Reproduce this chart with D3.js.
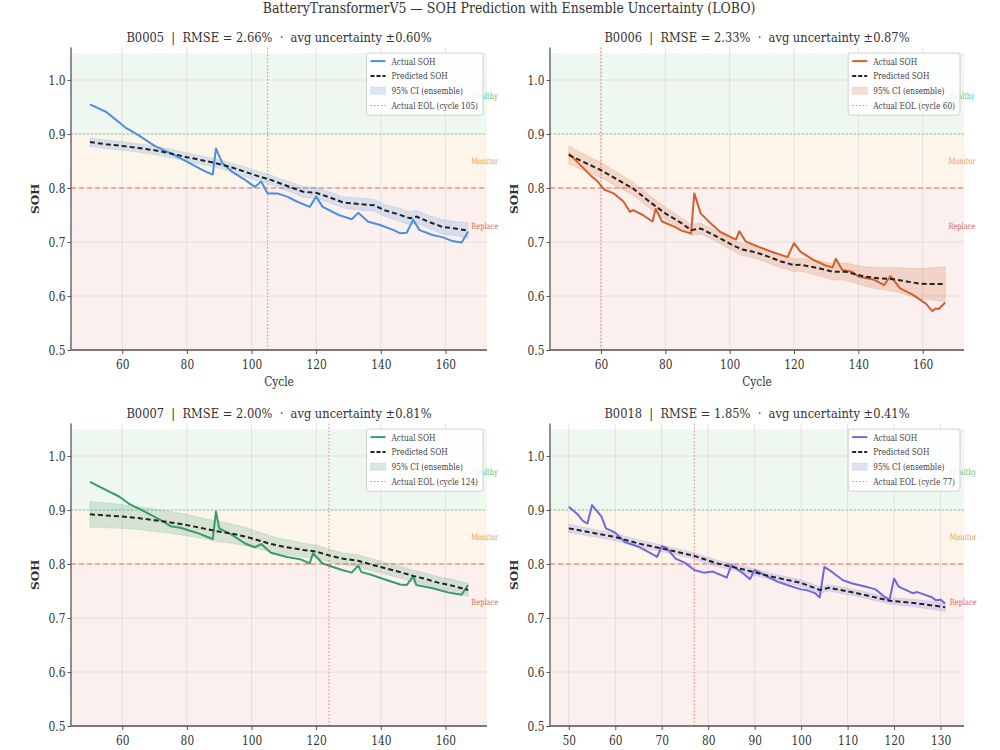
<!DOCTYPE html>
<html>
<head>
<meta charset="utf-8">
<script src="https://cdn.jsdelivr.net/npm/d3@7"></script>
<style>
  body { margin: 0; background: #fff; }
  text { font-family: "DejaVu Serif", serif; fill: #333; white-space: pre; }
</style>
</head>
<body>
<svg id="chart" width="1000" height="750"></svg>
<script>
// DATA
const batteryIds = ["B0005", "B0006", "B0007", "B0018"];
const rmseVals = [2.66, 2.33, 2.00, 1.85];
const avgUncVals = [0.60, 0.87, 0.81, 0.41];
const eolCycles = [105, 60, 124, 77];

const b0005Cycles = [50,55,61,65,70,75,79,84,86,88,89,91,94,98,101,103,105,108,111,114,118,120,122,127,131,133,136,140,144,146,148,150,152,156,159,162,165,167];
const b0005Actual = [0.955,0.941,0.912,0.898,0.878,0.864,0.852,0.836,0.830,0.825,0.873,0.846,0.830,0.815,0.802,0.812,0.790,0.790,0.784,0.775,0.765,0.784,0.765,0.750,0.742,0.754,0.738,0.731,0.722,0.716,0.717,0.741,0.722,0.713,0.709,0.702,0.699,0.719];
const b0005PredCycles = [50,55,60,65,70,75,80,85,89,94,98,102,106,110,116,120,124,128,130,134,138,141,145,149,151,155,159,163,167];
const b0005Pred = [0.885,0.881,0.878,0.874,0.870,0.864,0.857,0.851,0.846,0.838,0.830,0.822,0.815,0.806,0.793,0.791,0.783,0.774,0.772,0.770,0.768,0.759,0.752,0.744,0.747,0.737,0.728,0.725,0.721];
const b0005Ci = [0.008,0.008,0.008,0.008,0.008,0.008,0.008,0.008,0.008,0.008,0.009,0.009,0.009,0.009,0.010,0.010,0.010,0.010,0.011,0.011,0.011,0.011,0.012,0.012,0.012,0.012,0.013,0.013,0.014];

const b0006Cycles = [50,52,54,57,59,61,64,67,69,70,73,76,77,79,83,85,88,89,91,94,97,101,102,103,105,109,113,118,120,122,126,130,132,133,135,138,140,145,148,150,153,157,161,163,164,165,167];
const b0006Actual = [0.864,0.852,0.840,0.822,0.812,0.797,0.790,0.775,0.756,0.759,0.750,0.738,0.761,0.738,0.728,0.721,0.716,0.790,0.753,0.735,0.719,0.707,0.705,0.720,0.701,0.691,0.682,0.672,0.698,0.682,0.667,0.656,0.653,0.669,0.648,0.645,0.636,0.630,0.620,0.637,0.614,0.602,0.586,0.572,0.577,0.576,0.588];
const b0006PredCycles = [50,55,60,65,70,75,80,85,88,91,96,101,104,108,112,116,120,122,128,132,136,142,146,151,155,159,163,167];
const b0006Pred = [0.861,0.847,0.833,0.816,0.799,0.775,0.753,0.735,0.722,0.725,0.710,0.694,0.686,0.681,0.673,0.664,0.657,0.658,0.651,0.645,0.645,0.636,0.633,0.631,0.627,0.623,0.622,0.622];
const b0006Ci = [0.017,0.015,0.014,0.013,0.012,0.012,0.011,0.010,0.010,0.010,0.010,0.010,0.011,0.011,0.012,0.012,0.012,0.012,0.014,0.015,0.016,0.018,0.020,0.022,0.025,0.028,0.030,0.032];

const b0007Cycles = [50,54,59,62,67,72,75,78,83,86,88,89,90,94,98,101,103,106,111,115,118,119,122,125,128,131,133,134,137,142,146,148,150,151,156,161,165,167];
const b0007Actual = [0.952,0.940,0.925,0.912,0.897,0.881,0.870,0.867,0.858,0.851,0.846,0.897,0.866,0.854,0.838,0.831,0.837,0.821,0.813,0.809,0.801,0.820,0.801,0.795,0.789,0.784,0.797,0.785,0.780,0.770,0.762,0.761,0.777,0.761,0.755,0.747,0.743,0.761];
const b0007PredCycles = [50,55,60,65,70,75,80,85,89,94,98,102,106,110,116,120,124,128,133,137,142,146,150,154,158,162,167];
const b0007Pred = [0.892,0.890,0.888,0.885,0.881,0.877,0.872,0.866,0.861,0.856,0.851,0.844,0.837,0.832,0.826,0.823,0.816,0.810,0.806,0.799,0.791,0.785,0.778,0.772,0.765,0.760,0.752];
const b0007Ci = [0.024,0.023,0.022,0.021,0.021,0.020,0.020,0.019,0.019,0.018,0.017,0.016,0.015,0.014,0.013,0.012,0.012,0.011,0.011,0.011,0.011,0.011,0.011,0.011,0.011,0.012,0.012];

const b0018Cycles = [50,52,53,54,55,57,58,60,62,65,67,69,70,71,73,75,77,79,81,84,85,87,89,90,92,95,97,100,101,103,104,105,107,109,111,114,116,118,119,120,121,124,125,128,129,130,131];
const b0018Actual = [0.906,0.891,0.880,0.875,0.909,0.888,0.866,0.858,0.841,0.832,0.823,0.813,0.833,0.830,0.810,0.802,0.789,0.784,0.786,0.775,0.798,0.786,0.772,0.789,0.780,0.767,0.761,0.753,0.752,0.746,0.738,0.795,0.783,0.770,0.764,0.758,0.753,0.739,0.733,0.773,0.758,0.746,0.748,0.739,0.733,0.734,0.727];
const b0018PredCycles = [50,55,60,65,71,77,82,88,94,100,104,106,112,119,125,131];
const b0018Pred = [0.866,0.858,0.850,0.838,0.827,0.815,0.801,0.789,0.776,0.765,0.752,0.756,0.746,0.732,0.727,0.720];
const b0018Ci = [0.008,0.007,0.007,0.007,0.006,0.006,0.006,0.006,0.006,0.006,0.006,0.006,0.006,0.006,0.007,0.008];

const xTicksLong = [60, 80, 100, 120, 140, 160];
const xTicksShort = [50, 60, 70, 80, 90, 100, 110, 120, 130];
const yTicks = [0.5, 0.6, 0.7, 0.8, 0.9, 1.0];

const zoneNames = ["Healthy", "Monitor", "Replace"];
const zoneLabelY = [0.97, 0.85, 0.73];
const legendLabels = ["Actual SOH", "Predicted SOH", "95% CI (ensemble)"];

// SETUP
const SX = 0.85;          // reference glyphs are squeezed horizontally
const yDomain = [0.5, 1.06];
const plotH = 302.4;

const panels = [
  { id: batteryIds[0], color: "#4a8fe0", cycles: b0005Cycles, actual: b0005Actual, predCycles: b0005PredCycles, pred: b0005Pred, ci: b0005Ci, ticks: xTicksLong, eol: eolCycles[0], rmse: rmseVals[0], unc: avgUncVals[0], left: 71, right: 487, bottom: 350, xLabel: true },
  { id: batteryIds[1], color: "#d2602e", cycles: b0006Cycles, actual: b0006Actual, predCycles: b0006PredCycles, pred: b0006Pred, ci: b0006Ci, ticks: xTicksLong, eol: eolCycles[1], rmse: rmseVals[1], unc: avgUncVals[1], left: 550, right: 964, bottom: 350, xLabel: true },
  { id: batteryIds[2], color: "#3a9a6e", cycles: b0007Cycles, actual: b0007Actual, predCycles: b0007PredCycles, pred: b0007Pred, ci: b0007Ci, ticks: xTicksLong, eol: eolCycles[2], rmse: rmseVals[2], unc: avgUncVals[2], left: 71, right: 487, bottom: 726, xLabel: false },
  { id: batteryIds[3], color: "#6f69dc", cycles: b0018Cycles, actual: b0018Actual, predCycles: b0018PredCycles, pred: b0018Pred, ci: b0018Ci, ticks: xTicksShort, eol: eolCycles[3], rmse: rmseVals[3], unc: avgUncVals[3], left: 550, right: 964, bottom: 726, xLabel: false }
];

const zones = [
  { lo: 0.9, hi: 1.05, fill: "#eef8f0", text: "#5cc07a" },
  { lo: 0.8, hi: 0.9, fill: "#fdf5ea", text: "#e8a050" },
  { lo: 0.5, hi: 0.8, fill: "#fbf0ee", text: "#d9675c" }
];

const svg = d3.select("#chart");
svg.append("rect").attr("width", 1000).attr("height", 750).attr("fill", "#fff");

// squeezed text helper
function label(g, x, y, str, size, anchor, sx) {
  return g.append("text")
    .attr("transform", `translate(${x},${y}) scale(${sx || SX},1)`)
    .attr("font-size", size)
    .attr("text-anchor", anchor || "middle")
    .text(str);
}

// 1: FIGURE TITLE
label(svg, 509, 13, "BatteryTransformerV5 — SOH Prediction with Ensemble Uncertainty (LOBO)", 15, "middle", 0.834);

// 2: PANELS
panels.forEach(p => {
  const g = svg.append("g");
  const top = p.bottom - plotH;

  const lo = d3.min(p.cycles), hi = d3.max(p.cycles), pad = (hi - lo) * 0.05;
  const x = d3.scaleLinear().domain([lo - pad, hi + pad]).range([p.left, p.right]);
  const y = d3.scaleLinear().domain(yDomain).range([p.bottom, top]);

  // 2.a: zone backgrounds
  g.selectAll(".zone").data(zones).enter().append("rect")
    .attr("x", p.left).attr("width", p.right - p.left)
    .attr("y", d => y(d.hi)).attr("height", d => y(d.lo) - y(d.hi))
    .attr("fill", d => d.fill);

  // 2.b: grid
  g.selectAll(".gx").data(p.ticks).enter().append("line")
    .attr("x1", d => x(d)).attr("x2", d => x(d))
    .attr("y1", top).attr("y2", p.bottom)
    .attr("stroke", "#dcdcdc").attr("stroke-width", 0.8);
  g.selectAll(".gy").data(yTicks).enter().append("line")
    .attr("x1", p.left).attr("x2", p.right)
    .attr("y1", d => y(d)).attr("y2", d => y(d))
    .attr("stroke", "#dcdcdc").attr("stroke-width", 0.8);

  // 2.c: thresholds and EOL marker
  g.append("line").attr("x1", p.left).attr("x2", p.right)
    .attr("y1", y(0.9)).attr("y2", y(0.9))
    .attr("stroke", "#7fd68e").attr("stroke-width", 1.2).attr("stroke-dasharray", "2,2");
  g.append("line").attr("x1", p.left).attr("x2", p.right)
    .attr("y1", y(0.8)).attr("y2", y(0.8))
    .attr("stroke", "#ec6a5c").attr("stroke-width", 1.2).attr("stroke-dasharray", "5,3");
  g.append("line").attr("x1", x(p.eol)).attr("x2", x(p.eol))
    .attr("y1", top).attr("y2", p.bottom)
    .attr("stroke", "#ee7d73").attr("stroke-width", 1).attr("stroke-dasharray", "1.5,2");

  // 2.d: CI band
  const band = p.predCycles.map((c, i) => ({ c, lo: p.pred[i] - p.ci[i], hi: p.pred[i] + p.ci[i] }));
  g.append("path").datum(band)
    .attr("d", d3.area().x(d => x(d.c)).y0(d => y(d.lo)).y1(d => y(d.hi)))
    .attr("fill", p.color).attr("fill-opacity", 0.2)
    .attr("stroke", p.color).attr("stroke-opacity", 0.15);

  // 2.e: actual and predicted lines
  const act = p.cycles.map((c, i) => ({ c, v: p.actual[i] }));
  g.append("path").datum(act)
    .attr("d", d3.line().x(d => x(d.c)).y(d => y(d.v)))
    .attr("fill", "none").attr("stroke", p.color).attr("stroke-width", 2)
    .attr("stroke-linejoin", "round");
  const pr = p.predCycles.map((c, i) => ({ c, v: p.pred[i] }));
  g.append("path").datum(pr)
    .attr("d", d3.line().x(d => x(d.c)).y(d => y(d.v)))
    .attr("fill", "none").attr("stroke", "#222").attr("stroke-width", 2)
    .attr("stroke-dasharray", "5,3");

  // 2.f: zone labels
  zoneNames.forEach((name, i) => {
    label(g, x(hi + 1), y(zoneLabelY[i]) + 3, name, 8.5, "start", 0.78)
      .style("fill", zones[i].text);
  });

  // 2.g: legend
  const lg = g.append("g");
  const items = legendLabels.concat([`Actual EOL (cycle ${p.eol})`]);
  const texts = items.map(t => label(lg, 0, 0, t, 9.5, "start", 0.78).style("fill", "#444"));
  const tw = d3.max(texts, t => t.node().getComputedTextLength()) * 0.78;
  const boxW = 25 + tw + 5, boxH = 62;
  const bx = p.right - 4 - boxW, by = top + 5.5;
  lg.insert("rect", ":first-child")
    .attr("x", bx).attr("y", by).attr("width", boxW).attr("height", boxH)
    .attr("rx", 2).attr("fill", "#fff").attr("fill-opacity", 0.85)
    .attr("stroke", "#d0d0d0");
  texts.forEach((t, i) => {
    t.attr("transform", `translate(${bx + 25},${by + 11.5 + i * 14.8}) scale(0.78,1)`);
  });
  const ry = i => by + 8 + i * 14.8;
  lg.append("line").attr("x1", bx + 4).attr("x2", bx + 19).attr("y1", ry(0)).attr("y2", ry(0))
    .attr("stroke", p.color).attr("stroke-width", 2);
  lg.append("line").attr("x1", bx + 4).attr("x2", bx + 19).attr("y1", ry(1)).attr("y2", ry(1))
    .attr("stroke", "#222").attr("stroke-width", 2).attr("stroke-dasharray", "4,2");
  lg.append("rect").attr("x", bx + 4).attr("y", ry(2) - 3.5).attr("width", 15).attr("height", 7)
    .attr("fill", p.color).attr("fill-opacity", 0.2).attr("stroke", p.color).attr("stroke-opacity", 0.15);
  lg.append("line").attr("x1", bx + 4).attr("x2", bx + 19).attr("y1", ry(3)).attr("y2", ry(3))
    .attr("stroke", "#ee7d73").attr("stroke-width", 1).attr("stroke-dasharray", "1.5,2");

  // 2.h: axes
  const xAxis = g.append("g").attr("transform", `translate(0,${p.bottom})`)
    .call(d3.axisBottom(x).tickValues(p.ticks).tickSize(4).tickPadding(6));
  const yAxis = g.append("g").attr("transform", `translate(${p.left},0)`)
    .call(d3.axisLeft(y).tickValues(yTicks).tickFormat(d3.format(".1f")).tickSize(3.5));
  [xAxis, yAxis].forEach(a => {
    a.select(".domain").attr("stroke", "#555").attr("stroke-width", 1.3);
    a.selectAll(".tick line").attr("stroke", "#555");
    a.selectAll(".tick text").attr("font-size", 12.5).attr("fill", "#333")
      .style("font-family", "'DejaVu Serif', serif");
  });
  xAxis.selectAll(".tick text").attr("transform", `scale(${SX},1)`);
  yAxis.selectAll(".tick text").attr("x", -5.5 / SX).attr("transform", `scale(${SX},1)`);
  yAxis.select(".domain").attr("d", `M0,${p.bottom}V${top}`);
  xAxis.select(".domain").attr("d", `M${p.left},0H${p.right}`);

  // 2.i: labels
  const mid = (p.left + p.right) / 2;
  label(g, mid, top - 5.5, `${p.id}  |  RMSE = ${p.rmse.toFixed(2)}%  ·  avg uncertainty ±${p.unc.toFixed(2)}%`, 13.5);
  if (p.xLabel) label(g, mid, p.bottom + 36, "Cycle", 12.5);
  g.append("text")
    .attr("transform", `translate(${p.left - 32},${(top + p.bottom) / 2}) scale(${SX},1) rotate(-90)`)
    .attr("font-size", 12).attr("font-weight", "bold").attr("text-anchor", "middle")
    .text("SOH");
});
</script>
</body>
</html>
